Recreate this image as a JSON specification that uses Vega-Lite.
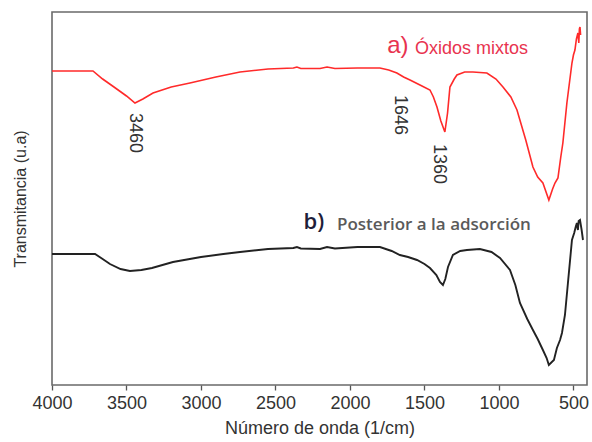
{
  "$schema": "https://vega.github.io/schema/vega-lite/v6.json",
  "width": 535,
  "height": 373,
  "autosize": {"type": "none"},
  "padding": {"left": 52, "top": 12, "right": 5, "bottom": 57},
  "background": "white",
  "config": {
    "view": {"stroke": "#6a6a6a", "strokeWidth": 1.6},
    "font": "Liberation Sans"
  },
  "datasets": {
    "red": [
      {"wn": 4000, "t": 314}, {"wn": 3900, "t": 314}, {"wn": 3800, "t": 314}, {"wn": 3725, "t": 314},
      {"wn": 3660, "t": 306}, {"wn": 3584, "t": 298}, {"wn": 3500, "t": 289}, {"wn": 3443, "t": 282},
      {"wn": 3390, "t": 286}, {"wn": 3322, "t": 292}, {"wn": 3200, "t": 298}, {"wn": 3074, "t": 302},
      {"wn": 2900, "t": 308}, {"wn": 2738, "t": 313}, {"wn": 2550, "t": 316}, {"wn": 2380, "t": 317},
      {"wn": 2356, "t": 318}, {"wn": 2330, "t": 316.5}, {"wn": 2201, "t": 316.5}, {"wn": 2154, "t": 318},
      {"wn": 2101, "t": 316.5}, {"wn": 1950, "t": 317}, {"wn": 1799, "t": 317}, {"wn": 1740, "t": 315},
      {"wn": 1685, "t": 312}, {"wn": 1640, "t": 308}, {"wn": 1597, "t": 305}, {"wn": 1530, "t": 300},
      {"wn": 1463, "t": 295}, {"wn": 1440, "t": 288}, {"wn": 1416, "t": 278}, {"wn": 1390, "t": 264},
      {"wn": 1363, "t": 253}, {"wn": 1345, "t": 272}, {"wn": 1329, "t": 298}, {"wn": 1300, "t": 306},
      {"wn": 1282, "t": 310}, {"wn": 1230, "t": 313}, {"wn": 1175, "t": 313}, {"wn": 1081, "t": 312},
      {"wn": 1020, "t": 306}, {"wn": 973, "t": 298}, {"wn": 920, "t": 288}, {"wn": 879, "t": 275},
      {"wn": 820, "t": 245}, {"wn": 772, "t": 218}, {"wn": 740, "t": 208}, {"wn": 705, "t": 202},
      {"wn": 665, "t": 185}, {"wn": 640, "t": 196}, {"wn": 624, "t": 202}, {"wn": 604, "t": 207},
      {"wn": 585, "t": 228}, {"wn": 571, "t": 242}, {"wn": 544, "t": 282}, {"wn": 510, "t": 322},
      {"wn": 500, "t": 330}, {"wn": 490, "t": 335}, {"wn": 480, "t": 346}, {"wn": 470, "t": 352},
      {"wn": 464, "t": 342}, {"wn": 460, "t": 356}, {"wn": 456, "t": 358}, {"wn": 452, "t": 350}
    ],
    "black": [
      {"wn": 4000, "t": 131}, {"wn": 3900, "t": 131}, {"wn": 3800, "t": 131}, {"wn": 3711, "t": 131},
      {"wn": 3660, "t": 126}, {"wn": 3611, "t": 121}, {"wn": 3540, "t": 116}, {"wn": 3477, "t": 114},
      {"wn": 3400, "t": 115}, {"wn": 3329, "t": 117}, {"wn": 3188, "t": 123}, {"wn": 3000, "t": 128},
      {"wn": 2850, "t": 131}, {"wn": 2738, "t": 133}, {"wn": 2550, "t": 136}, {"wn": 2380, "t": 137},
      {"wn": 2356, "t": 138}, {"wn": 2330, "t": 136.5}, {"wn": 2201, "t": 136}, {"wn": 2154, "t": 138},
      {"wn": 2101, "t": 136.5}, {"wn": 1950, "t": 138}, {"wn": 1799, "t": 138}, {"wn": 1720, "t": 134},
      {"wn": 1665, "t": 130}, {"wn": 1610, "t": 128}, {"wn": 1550, "t": 125}, {"wn": 1500, "t": 121},
      {"wn": 1463, "t": 117}, {"wn": 1420, "t": 110}, {"wn": 1396, "t": 103}, {"wn": 1376, "t": 100},
      {"wn": 1360, "t": 106}, {"wn": 1342, "t": 118}, {"wn": 1309, "t": 130}, {"wn": 1260, "t": 134},
      {"wn": 1215, "t": 135}, {"wn": 1128, "t": 136}, {"wn": 1050, "t": 133}, {"wn": 993, "t": 127},
      {"wn": 926, "t": 115}, {"wn": 890, "t": 100}, {"wn": 859, "t": 82}, {"wn": 810, "t": 66},
      {"wn": 772, "t": 55}, {"wn": 740, "t": 46}, {"wn": 705, "t": 35}, {"wn": 680, "t": 27},
      {"wn": 665, "t": 20}, {"wn": 645, "t": 23}, {"wn": 631, "t": 25}, {"wn": 611, "t": 37},
      {"wn": 590, "t": 45}, {"wn": 577, "t": 52}, {"wn": 557, "t": 70}, {"wn": 537, "t": 102},
      {"wn": 510, "t": 145}, {"wn": 495, "t": 152}, {"wn": 485, "t": 158}, {"wn": 477, "t": 162},
      {"wn": 470, "t": 155}, {"wn": 465, "t": 164}, {"wn": 456, "t": 165}, {"wn": 445, "t": 155},
      {"wn": 436, "t": 145}
    ],
    "peaks": [
      {"wn": 3443, "t": 252, "label": "3460"},
      {"wn": 1665, "t": 270, "label": "1646"},
      {"wn": 1403, "t": 221, "label": "1360"}
    ]
  },
  "layer": [
    {
      "data": {"name": "red"},
      "mark": {"type": "line", "color": "#ff2a2a", "strokeWidth": 1.6, "interpolate": "linear"},
      "encoding": {
        "x": {
          "field": "wn", "type": "quantitative",
          "scale": {"domain": [4000, 409], "nice": false, "zero": false},
          "axis": {
            "values": [4000, 3750, 3500, 3250, 3000, 2750, 2500, 2250, 2000, 1750, 1500, 1250, 1000, 750, 500],
            "format": "d",
            "labelExpr": "datum.value % 500 === 0 ? datum.label : ''",
            "labelFlush": false,
            "labelOverlap": false,
            "grid": false,
            "domain": false,
            "tickSize": 5,
            "tickColor": "#555",
            "tickWidth": 1.3,
            "labelFontSize": 18,
            "labelColor": "#333",
            "labelPadding": 4,
            "title": "Número de onda (1/cm)",
            "titleFontSize": 18,
            "titleFontWeight": "normal",
            "titleColor": "#333",
            "titlePadding": 7
          }
        },
        "y": {
          "field": "t", "type": "quantitative",
          "scale": {"domain": [0, 373], "nice": false, "zero": false},
          "axis": {
            "labels": false, "ticks": false, "domain": false, "grid": false,
            "title": "Transmitancia (u.a)",
            "titleFontSize": 16,
            "titleFontWeight": "normal",
            "titleColor": "#333",
            "titlePadding": 24
          }
        }
      }
    },
    {
      "data": {"name": "black"},
      "mark": {"type": "line", "color": "#222222", "strokeWidth": 1.9},
      "encoding": {
        "x": {"field": "wn", "type": "quantitative"},
        "y": {"field": "t", "type": "quantitative"}
      }
    },
    {
      "data": {"name": "peaks"},
      "mark": {"type": "text", "angle": 90, "align": "center", "baseline": "middle", "fontSize": 18, "color": "#333"},
      "encoding": {
        "x": {"field": "wn", "type": "quantitative"},
        "y": {"field": "t", "type": "quantitative"},
        "text": {"field": "label"}
      }
    },
    {
      "data": {"values": [{"wn": 1678, "t": 339, "label": "a)"}]},
      "mark": {"type": "text", "align": "center", "baseline": "middle", "fontSize": 24, "color": "#e8334f"},
      "encoding": {
        "x": {"field": "wn", "type": "quantitative"},
        "y": {"field": "t", "type": "quantitative"},
        "text": {"field": "label"}
      }
    },
    {
      "data": {"values": [{"wn": 1564, "t": 336, "label": "Óxidos mixtos"}]},
      "mark": {"type": "text", "align": "left", "baseline": "middle", "fontSize": 18, "color": "#e8334f"},
      "encoding": {
        "x": {"field": "wn", "type": "quantitative"},
        "y": {"field": "t", "type": "quantitative"},
        "text": {"field": "label"}
      }
    },
    {
      "data": {"values": [{"wn": 2242, "t": 163, "label": "b)"}]},
      "mark": {"type": "text", "align": "center", "baseline": "middle", "fontSize": 22, "font": "Open Sans", "fontWeight": 600, "color": "#1e1e3a"},
      "encoding": {
        "x": {"field": "wn", "type": "quantitative"},
        "y": {"field": "t", "type": "quantitative"},
        "text": {"field": "label"}
      }
    },
    {
      "data": {"values": [{"wn": 2087, "t": 160, "label": "Posterior a la adsorción"}]},
      "mark": {"type": "text", "align": "left", "baseline": "middle", "fontSize": 17, "font": "Open Sans", "fontWeight": 600, "color": "#5a5a5a"},
      "encoding": {
        "x": {"field": "wn", "type": "quantitative"},
        "y": {"field": "t", "type": "quantitative"},
        "text": {"field": "label"}
      }
    }
  ]
}
